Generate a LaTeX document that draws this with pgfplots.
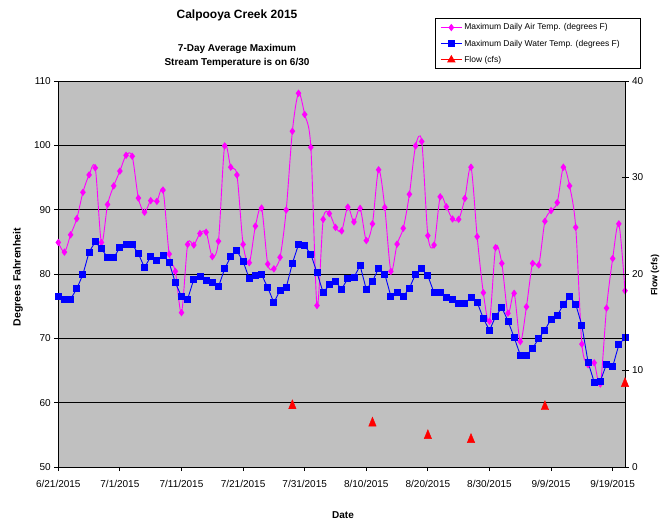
\documentclass[border=0pt]{standalone}
\usepackage{pgfplots}
\pgfplotsset{compat=1.18}
\usepackage{fontspec}
\setmainfont{Liberation Sans}
\definecolor{plotgray}{HTML}{C0C0C0}
\definecolor{airmag}{HTML}{FF00FF}
\definecolor{waterblue}{HTML}{0000FF}
\definecolor{flowred}{HTML}{FF0000}

\pgfplotstableread{
day air
0 84.9
1 83.4
2 86.1
3 88.6
4 92.7
5 95.4
6 96.5
7 84.9
8 90.8
9 93.7
10 96.0
11 98.45
12 98.3
13 91.8
14 89.6
15 91.4
16 91.3
17 93.05
18 83.1
19 80.4
20 74.0
21 84.6
22 84.5
23 86.3
24 86.5
25 82.7
26 85.1
27 99.9
28 96.6
29 95.4
30 84.6
31 81.75
32 87.45
33 90.25
34 81.55
35 80.8
36 82.6
37 89.95
38 102.2
39 108.1
40 104.8
41 99.7
42 75.1
43 88.5
44 89.4
45 87.25
46 86.7
47 90.4
48 88.1
49 90.2
50 85.2
51 87.8
52 96.2
53 90.35
54 80.4
55 84.65
56 87.1
57 92.4
58 99.9
59 100.6
60 85.95
61 84.5
62 92.0
63 90.45
64 88.55
65 88.5
66 91.75
67 96.6
68 85.8
69 77.1
70 72.65
71 84.1
72 81.65
73 73.9
74 77.0
75 69.5
76 74.9
77 81.65
78 81.4
79 88.2
80 89.85
81 91.1
82 96.6
83 93.7
84 87.25
85 69.1
86 65.9
87 66.2
88 62.9
89 74.7
90 82.4
91 87.8
92 77.4
}\airtable

\pgfplotstableread{
day water
0 76.5
1 76.1
2 76.1
3 77.7
4 79.95
5 83.4
6 85.0
7 83.9
8 82.6
9 82.5
10 84.15
11 84.6
12 84.6
13 83.15
14 81.0
15 82.7
16 82.1
17 82.95
18 81.75
19 78.65
20 76.5
21 76.1
22 79.2
23 79.6
24 78.95
25 78.7
26 78.0
27 80.8
28 82.7
29 83.6
30 81.95
31 79.3
32 79.7
33 79.9
34 77.9
35 75.55
36 77.5
37 77.9
38 81.65
39 84.6
40 84.4
41 83.05
42 80.2
43 77.1
44 78.3
45 78.8
46 77.65
47 79.3
48 79.5
49 81.3
50 77.6
51 78.85
52 80.9
53 80.0
54 76.5
55 77.1
56 76.5
57 77.8
58 80.0
59 80.8
60 79.7
61 77.1
62 77.1
63 76.4
64 76.0
65 75.45
66 75.45
67 76.4
68 75.6
69 73.1
70 71.25
71 73.4
72 74.8
73 72.7
74 70.15
75 67.4
76 67.4
77 68.45
78 70.0
79 71.3
80 73.0
81 73.5
82 75.3
83 76.5
84 75.3
85 72.0
86 66.3
87 63.2
88 63.35
89 66.0
90 65.6
91 69.0
92 70.1
}\watertable

\pgfplotstableread{
day flow
38 6.5
51 4.7
60 3.4
67 3.0
79 6.4
92 8.8
}\flowtable

\begin{document}
\begin{tikzpicture}[x=1pt,y=1pt]
\useasboundingbox (0pt,0pt) rectangle (666pt,522pt);
\begin{axis}[
  at={(58.3pt,55pt)}, anchor=south west,
  scale only axis, width=566.7pt, height=386pt,
  xmin=0, xmax=92, ymin=50, ymax=110,
  axis background/.style={fill=plotgray, draw=gray, line width=0.8pt},
  axis x line*=bottom, axis y line*=left,
  axis line style={black, -, line width=0.8pt},
  xtick={0,10,...,90},
  xticklabels={6/21/2015,7/1/2015,7/11/2015,7/21/2015,7/31/2015,8/10/2015,8/20/2015,8/30/2015,9/9/2015,9/19/2015},
  ytick={50,60,...,110},
  ymajorgrids, grid style={black, line width=0.8pt},
  tick align=outside, major tick length=4pt,
  tick style={black, line width=0.8pt},
  ticklabel style={font=\fontsize{10}{12}\selectfont},
  xticklabel style={yshift=-6pt},
  /pgf/number format/assume math mode=true,
  clip=false,
  legend cell align=left,
  legend style={at={(0.6647,1.1624)}, anchor=north west, draw=black, line width=0.8pt, fill=white,
    font=\fontsize{8.5}{10}\selectfont, row sep=4.5pt, inner xsep=5pt, inner ysep=3pt},
  legend image code/.code={\draw[mark repeat=2,mark phase=2] plot coordinates {(0pt,0pt)(10.5pt,0pt)(21pt,0pt)};},
]
\addplot[airmag, line width=0.9pt, smooth, tension=0.5, mark=diamond*, mark size=3pt, mark options={solid, fill=airmag}] table[x=day, y=air] {\airtable};
\addlegendentry{Maximum Daily Air Temp. (degrees F)}
\addplot[waterblue, line width=0.9pt, mark=square*, mark size=3pt, mark options={solid, fill=waterblue}] table[x=day, y=water] {\watertable};
\addlegendentry{Maximum Daily Water Temp. (degrees F)\hspace*{14pt}}
\addlegendimage{flowred, line width=0.9pt, mark=triangle*, mark size=4pt, mark options={fill=flowred}}
\addlegendentry{Flow (cfs)}
\end{axis}
\begin{axis}[
  at={(58.3pt,55pt)}, anchor=south west,
  scale only axis, width=566.7pt, height=386pt,
  xmin=0, xmax=92, ymin=0, ymax=40,
  axis x line=none, axis y line*=right,
  axis line style={black, -, line width=0.8pt},
  ytick={0,10,...,40},
  tick align=center, major tick length=7pt,
  tick style={black, line width=0.8pt},
  ticklabel style={font=\fontsize{10}{12}\selectfont},
  /pgf/number format/assume math mode=true,
  clip=false,
]
\addplot[only marks, flowred, mark=triangle*, mark size=4.3pt, mark options={fill=flowred, draw=flowred, yshift=-1.5pt, yscale=1.4}] table[x=day, y=flow] {\flowtable};
\end{axis}
\node[font=\bfseries\fontsize{12}{14}\selectfont] at (237pt,507pt) {Calpooya Creek 2015};
\node[align=center, font=\bfseries\fontsize{10}{14}\selectfont] at (237pt,466pt) {7-Day Average Maximum\\Stream Temperature is on 6/30};
\node[rotate=90, font=\bfseries\fontsize{10.5}{12}\selectfont] at (18pt,245pt) {Degrees Fahrenheit};
\node[rotate=90, font=\bfseries\fontsize{9}{11}\selectfont] at (655pt,247pt) {Flow (cfs)};
\node[font=\bfseries\fontsize{10}{12}\selectfont] at (343pt,7pt) {Date};
\end{tikzpicture}
\end{document}
